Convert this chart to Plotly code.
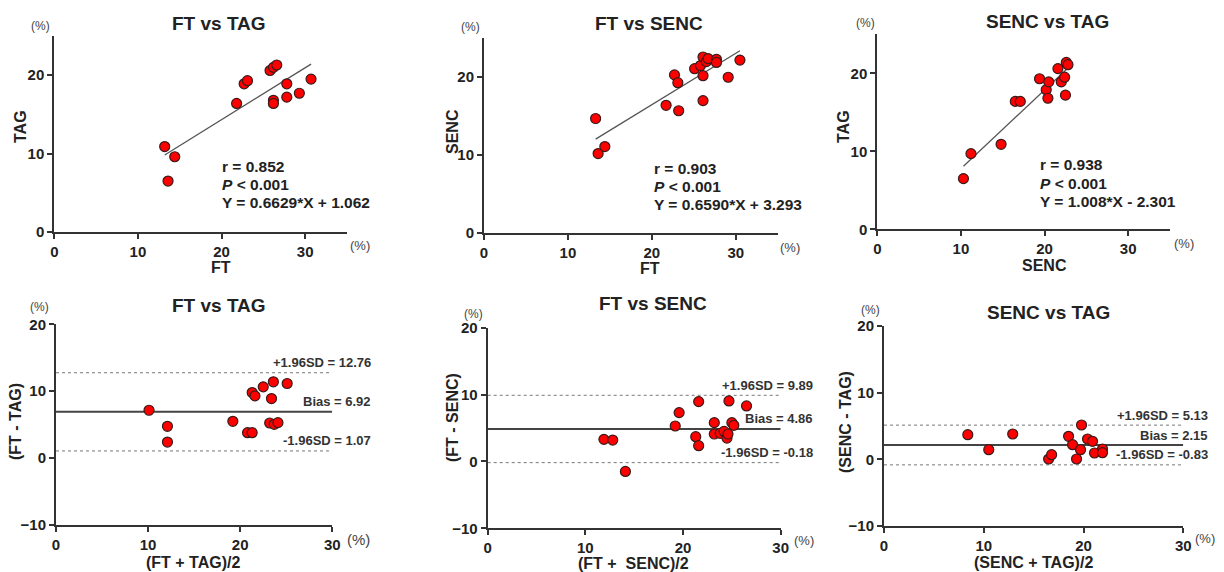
import plotly.graph_objects as go

W, H = 1224, 572

# ---------------- data ----------------
# Correlation panels
ft_tag_ft = [13.2, 14.4, 13.6, 21.8, 22.7, 23.1, 25.8, 26.2, 26.6, 26.2, 26.2, 27.8, 27.8, 29.3, 30.7]
ft_tag_tag = [10.9, 9.6, 6.5, 16.4, 18.9, 19.3, 20.6, 21.0, 21.3, 16.8, 16.4, 18.9, 17.2, 17.7, 19.5]

ft_senc_ft = [13.3, 13.6, 14.4, 21.7, 22.7, 23.1, 23.2, 25.1, 25.8, 26.1, 26.1, 26.1, 26.5, 26.7, 27.7, 27.7, 29.1, 30.5]
ft_senc_senc = [14.7, 10.2, 11.1, 16.4, 20.3, 19.3, 15.7, 21.1, 21.5, 22.6, 20.2, 17.0, 22.0, 22.4, 22.3, 21.9, 20.0, 22.2]

senc_tag_senc = [10.3, 11.2, 14.8, 16.5, 17.1, 19.4, 20.2, 20.5, 20.4, 21.6, 22.0, 22.4, 22.5, 22.6, 22.8]
senc_tag_tag = [6.5, 9.7, 10.9, 16.4, 16.4, 19.3, 17.9, 18.9, 16.8, 20.6, 18.9, 19.5, 17.2, 21.4, 21.1]

reg_slopes = [0.6629, 0.6590, 1.008]
reg_intercepts = [1.062, 3.293, -2.301]
reg_r = ["0.852", "0.903", "0.938"]
reg_eq = ["Y = 0.6629*X + 1.062", "Y = 0.6590*X + 3.293", "Y = 1.008*X - 2.301"]

# Bland-Altman panels
ba_ft_tag_mean = [10.1, 12.1, 12.1, 19.2, 20.8, 21.3, 21.3, 21.6, 22.5, 23.2, 23.4, 23.6, 23.7, 24.1, 25.1]
ba_ft_tag_diff = [7.15, 4.75, 2.4, 5.5, 3.8, 3.8, 9.8, 9.3, 10.65, 5.25, 8.9, 11.4, 5.05, 5.3, 11.15]

ba_ft_senc_mean = [11.9, 12.8, 14.1, 19.2, 19.6, 21.3, 21.6, 21.6, 23.2, 23.2, 23.8, 24.2, 24.5, 24.6, 24.7, 25.0, 25.2, 26.5]
ba_ft_senc_diff = [3.3, 3.2, -1.5, 5.3, 7.3, 3.7, 8.95, 2.35, 5.8, 4.1, 4.2, 4.5, 3.5, 4.1, 9.05, 5.8, 5.4, 8.3]

ba_senc_tag_mean = [8.4, 10.5, 12.9, 16.5, 16.8, 18.5, 18.9, 19.3, 19.7, 19.8, 20.4, 20.9, 21.1, 21.9, 21.9]
ba_senc_tag_diff = [3.7, 1.45, 3.8, 0.05, 0.7, 3.45, 2.2, 0.05, 1.45, 5.15, 3.05, 2.7, 0.95, 1.55, 1.0]

ba_bias = [6.92, 4.86, 2.15]
ba_upper = [12.76, 9.89, 5.13]
ba_lower = [1.07, -0.18, -0.83]

titles = ["FT vs TAG", "FT vs SENC", "SENC vs TAG"]
corr_xlabels = ["FT", "FT", "SENC"]
corr_ylabels = ["TAG", "SENC", "TAG"]
ba_xlabels = ["(FT + TAG)/2", "(FT +  SENC)/2", "(SENC + TAG)/2"]
ba_ylabels = ["(FT - TAG)", "(FT - SENC)", "(SENC - TAG)"]

corr_x = [ft_tag_ft, ft_senc_ft, senc_tag_senc]
corr_y = [ft_tag_tag, ft_senc_senc, senc_tag_tag]
ba_x = [ba_ft_tag_mean, ba_ft_senc_mean, ba_senc_tag_mean]
ba_y = [ba_ft_tag_diff, ba_ft_senc_diff, ba_senc_tag_diff]

# ---------------- layout geometry (pixels) ----------------
FONT = "Liberation Sans, Arial, sans-serif"
AX = "#333333"
TXT = "#222222"

# (left, right, bottom, top) in pixels
geo = [
    (54.3, 347.0, 232.0, 36.0),
    (484.0, 777.7, 233.0, 38.3),
    (877.3, 1170.0, 229.3, 34.3),
    (56.0, 332.3, 525.0, 324.3),
    (487.7, 780.7, 528.3, 327.7),
    (884.0, 1183.3, 526.0, 326.0),
]
title_pos = [(219, 23), (649, 23), (1047, 22), (219, 305), (653, 303), (1048, 312)]
xlabel_pos = [(221, 267), (650, 268), (1044, 265), (193, 562), (633, 563), (1033, 562)]
ylabel_pos = [(20, 127), (452, 132), (843, 127), (15, 422), (452, 418), (845, 422)]
stat_pos = [(220, 166), (652, 168), (1038, 165)]
stat_step = 18
pct_top_shift = [(-14, 10), (-14, 11), (-12, 11), (-16, 17), (-14, 14), (-14, 16)]
pct_right_shift = [(13, -13), (12, -15), (14, -14), (26, -14), (23, -12), (22, -12)]
ba_label_shift = [41, 34, 27]

def xa(n):
    return "x" if n == 1 else f"x{n}"

def ya(n):
    return "y" if n == 1 else f"y{n}"

fig = go.Figure()

def px2paper(x, y):
    return x / W, 1 - y / H

marker = dict(color="#ff0000", size=10, line=dict(color="#3a1a1a", width=1.2))

for i in range(3):
    n = i + 1
    xs = corr_x[i]
    x0, x1 = min(xs), max(xs)
    fig.add_trace(go.Scatter(
        x=[x0, x1],
        y=[reg_slopes[i] * x0 + reg_intercepts[i], reg_slopes[i] * x1 + reg_intercepts[i]],
        mode="lines", line=dict(color="#555555", width=1.3),
        xaxis=xa(n), yaxis=ya(n), showlegend=False, hoverinfo="skip"))
    fig.add_trace(go.Scatter(
        x=xs, y=corr_y[i], mode="markers", marker=marker,
        xaxis=xa(n), yaxis=ya(n), showlegend=False, cliponaxis=False))

for i in range(3):
    n = i + 4
    for val, dash, wd, col in [(ba_upper[i], "dot", 1, "#777777"),
                               (ba_lower[i], "dot", 1, "#777777"),
                               (ba_bias[i], "solid", 2, "#444444")]:
        fig.add_trace(go.Scatter(
            x=[0, 30], y=[val, val], mode="lines",
            line=dict(color=col, width=wd, dash=dash),
            xaxis=xa(n), yaxis=ya(n), showlegend=False, hoverinfo="skip"))
    fig.add_trace(go.Scatter(
        x=ba_x[i], y=ba_y[i], mode="markers", marker=marker,
        xaxis=xa(n), yaxis=ya(n), showlegend=False, cliponaxis=False))

layout_axes = {}
for k, (l, r, b, t) in enumerate(geo):
    n = k + 1
    sfx = "" if n == 1 else str(n)
    top_row = k < 3
    common = dict(showline=True, linecolor=AX, linewidth=2, ticks="outside",
                  ticklen=5, tickwidth=2, tickcolor=AX, showgrid=False,
                  zeroline=False, fixedrange=True, automargin=False,
                  tickfont=dict(family=FONT, size=15, color=TXT, weight="bold"))
    layout_axes[f"xaxis{sfx}"] = dict(
        common, domain=[l / W, r / W], anchor=ya(n),
        range=[0, 35] if top_row else [0, 30], tickvals=[0, 10, 20, 30])
    layout_axes[f"yaxis{sfx}"] = dict(
        common, domain=[1 - b / H, 1 - t / H], anchor=xa(n),
        range=[0, 25] if top_row else [-10, 20],
        tickvals=[0, 10, 20] if top_row else [-10, 0, 10, 20])

annotations = []
def ann(text, x, y, size, bold=True, angle=0, xanchor="center", yanchor="middle",
        align="center", color=TXT, **kw):
    d = dict(text=text, x=x, y=y, showarrow=False, textangle=angle,
             xanchor=xanchor, yanchor=yanchor, align=align,
             font=dict(family=FONT, size=size, color=color,
                       weight="bold" if bold else "normal"))
    d.update(kw)
    if "xref" not in d:
        d["xref"] = "paper"
        d["yref"] = "paper"
    annotations.append(d)

all_titles = titles + titles
all_xl = corr_xlabels + ba_xlabels
all_yl = corr_ylabels + ba_ylabels
for k in range(6):
    n = k + 1
    tx, ty = px2paper(*title_pos[k])
    ann(all_titles[k], tx, ty, 19)
    lx, ly = px2paper(*xlabel_pos[k])
    ann(all_xl[k], lx, ly, 16)
    yx, yy = px2paper(*ylabel_pos[k])
    ann(all_yl[k], yx, yy, 16, angle=-90)
    sx, sy = pct_top_shift[k]
    ann("(%)", 0, 1, 12, bold=False, color="#444444",
        xref=f"{xa(n)} domain", yref=f"{ya(n)} domain", xshift=sx, yshift=sy)
    rx, ry = pct_right_shift[k]
    ann("(%)", 1, 0, 15 if k == 3 else 13, bold=False, color="#444444",
        xref=f"{xa(n)} domain", yref=f"{ya(n)} domain", xshift=rx, yshift=ry)

for i in range(3):
    sx, sy = stat_pos[i]
    lines = [f"r = {reg_r[i]}", "<i>P</i> &lt; 0.001", reg_eq[i]]
    for j, txt in enumerate(lines):
        px, py = px2paper(sx, sy + j * stat_step)
        ann(txt, px, py, 15.5, xanchor="left", align="left")

for i in range(3):
    n = i + 4
    for label, val in [("+1.96SD = %.2f" % ba_upper[i], ba_upper[i]),
                       ("Bias = %.2f" % ba_bias[i], ba_bias[i]),
                       ("-1.96SD = %.2f" % ba_lower[i], ba_lower[i])]:
        ann(label, 1, val, 13, xanchor="right",
            xref=f"{xa(n)} domain", yref=ya(n), xshift=ba_label_shift[i], yshift=10,
            color="#333333")

fig.update_layout(
    template="none",
    width=W, height=H, margin=dict(l=0, r=0, t=0, b=0, autoexpand=False),
    paper_bgcolor="white", plot_bgcolor="white",
    annotations=annotations, **layout_axes)

fig.write_html(
    "out.html",
    config={"displayModeBar": False, "staticPlot": True},
    post_script="document.body.style.margin='0';document.body.style.padding='0';"
                "document.documentElement.style.overflow='hidden';",
)
